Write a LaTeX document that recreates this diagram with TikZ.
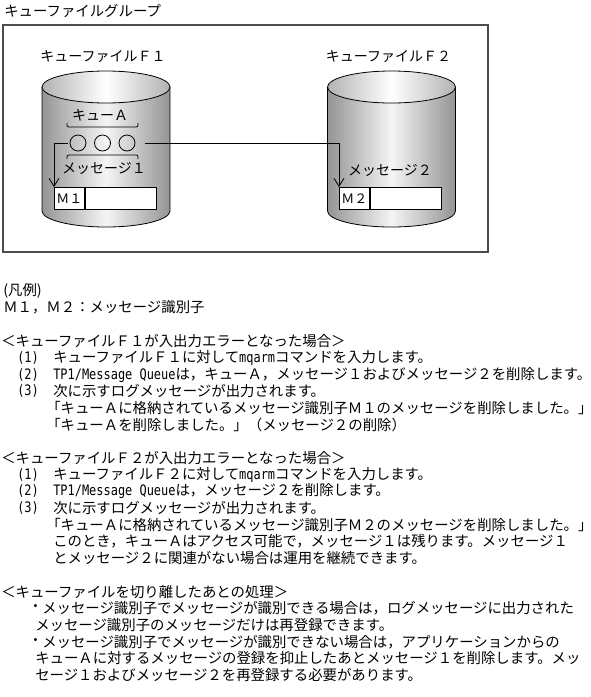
\documentclass[tikz,border=0pt]{standalone}
\usepackage{fontspec}
\setmainfont{Noto Sans CJK JP}
\newfontfamily\hankaku[FakeStretch=0.83]{DejaVu Sans Mono}
\usetikzlibrary{arrows.meta}
\tikzset{
  txt/.style={
    anchor = west,
    inner sep = 0pt,
    font = \fontsize{10.8pt}{12pt}\selectfont
  },
  lbl/.style={
    inner sep = 0pt,
    font = \fontsize{10.5pt}{12pt}\selectfont
  },
  drum/.style={
    draw,
    line width = 0.6pt,
    left color = black!42,
    right color = black!42,
    middle color = black!4
  },
  drumtop/.style={
    draw,
    line width = 0.6pt,
    left color = black!30,
    right color = black!30,
    middle color = white
  },
  msg/.style={
    shape = circle,
    draw,
    line width = 0.6pt,
    inner sep = 0pt,
    minimum size = 12pt
  },
  idbox/.style={
    draw,
    fill = white,
    line width = 0.6pt,
    inner sep = 0pt,
    anchor = north west,
    minimum height = 16.5pt,
    font = \fontsize{9.75pt}{10pt}\selectfont
  },
  link/.style={
    line width = 0.6pt,
    -{Straight Barb[length=6pt,width=7.5pt]}
  },
  brk/.style={line width = 0.6pt},
  grp/.style={draw = black!70, line width = 0.8pt}
}

\begin{document}
\begin{tikzpicture}[x=0.75pt, y=-0.75pt]
  \useasboundingbox (0,0) rectangle (591,697);
  \node[txt] (grouplbl) at (4,11) {キューファイルグループ};
  \draw[grp] (3,25) rectangle (488,252);
  \foreach \cx/\d [count=\n] in {106/１, 391.5/２}{
    \draw[drum] (\cx-64,87) -- (\cx-64,211)
      arc[start angle=180, end angle=360, x radius=48pt, y radius=12pt]
      -- (\cx+64,87) -- cycle;
    \draw[drumtop] (\cx,87) ellipse[x radius=48pt, y radius=12pt];
    \node[lbl] (file\n) at (\cx-3,57) {キューファイルＦ\d};
  }

  \node[lbl] (qlbl) at (100,115) {キューＡ};
  \draw[brk] (67,123) .. controls (67,127) .. (71,127) -- (134,127)
    .. controls (138,127) .. (138,123);
  \foreach \x [count=\i] in {78,102.5,127}
    \node[msg] (m\i) at (\x,143) {};
  \draw[brk] (67,159) .. controls (67,155) .. (71,155) -- (134,155)
    .. controls (138,155) .. (138,159);
  \node[lbl] (msg1lbl) at (104,168) {メッセージ１};
  \node[inner sep=0pt, minimum width=57.75pt, minimum height=12pt] (queueA) at (106.5,143) {};

  \node[idbox, minimum width=22.5pt] (id1) at (54,187) {Ｍ１};
  \node[idbox, minimum width=53.25pt] (body1) at (id1.north east) {};
  \node[lbl] (msg2lbl) at (390,170) {メッセージ２};
  \node[idbox, minimum width=22.5pt] (id2) at (339,187) {Ｍ２};
  \node[idbox, minimum width=53.25pt] (body2) at (id2.north east) {};
  \draw[link] (queueA.west) -| (id1.north west);
  \draw[link] (queueA.east) -| (id2.north west);

  \node[txt] (legend) at (3,291) {(凡例)};
  \node[txt] (legendkey) at (3,307.7) {Ｍ１，Ｍ２：メッセージ識別子};

  \node[txt] (caseone) at (1,341.1) {＜キューファイルＦ１が入出力エラーとなった場合＞};
  \foreach \y [count=\i] in {357.8,374.5,391.2}
    \node[txt] (n1\i) at (17,\y) {\hankaku(\i)};
  \node[txt] (s11) at (53,357.8) {キューファイルＦ１に対して{\hankaku mqarm}コマンドを入力します。};
  \node[txt] (s12) at (53,374.5) {{\hankaku TP1/Message Queue}は，キューＡ，メッセージ１およびメッセージ２を削除します。};
  \node[txt] (s13) at (53,391.2) {次に示すログメッセージが出力されます。};
  \node[txt] (s14) at (46,407.9) {「キューＡに格納されているメッセージ識別子Ｍ１のメッセージを削除しました。」};
  \node[txt] (s15) at (46,424.6) {「キューＡを削除しました。」（メッセージ２の削除）};

  \node[txt] (casetwo) at (1,458) {＜キューファイルＦ２が入出力エラーとなった場合＞};
  \foreach \y [count=\i] in {474.7,491.4,508.1}
    \node[txt] (n2\i) at (17,\y) {\hankaku(\i)};
  \node[txt] (s21) at (53,474.7) {キューファイルＦ２に対して{\hankaku mqarm}コマンドを入力します。};
  \node[txt] (s22) at (53,491.4) {{\hankaku TP1/Message Queue}は，メッセージ２を削除します。};
  \node[txt] (s23) at (53,508.1) {次に示すログメッセージが出力されます。};
  \node[txt] (s24) at (46,524.8) {「キューＡに格納されているメッセージ識別子Ｍ２のメッセージを削除しました。」};
  \node[txt] (s25) at (53,541.5) {このとき，キューＡはアクセス可能で，メッセージ１は残ります。メッセージ１};
  \node[txt] (s26) at (53,558.2) {とメッセージ２に関連がない場合は運用を継続できます。};

  \node[txt] (after) at (1,591.6) {＜キューファイルを切り離したあとの処理＞};
  \foreach \y [count=\i] in {608.3,641.7}
    \node[txt] (dot\i) at (28,\y) {・};
  \node[txt] (s31) at (42,608.3) {メッセージ識別子でメッセージが識別できる場合は，ログメッセージに出力された};
  \node[txt] (s32) at (35,625) {メッセージ識別子のメッセージだけは再登録できます。};
  \node[txt] (s33) at (42,641.7) {メッセージ識別子でメッセージが識別できない場合は，アプリケーションからの};
  \node[txt] (s34) at (35,658.4) {キューＡに対するメッセージの登録を抑止したあとメッセージ１を削除します。メッ};
  \node[txt] (s35) at (35,675.1) {セージ１およびメッセージ２を再登録する必要があります。};
\end{tikzpicture}
\end{document}
